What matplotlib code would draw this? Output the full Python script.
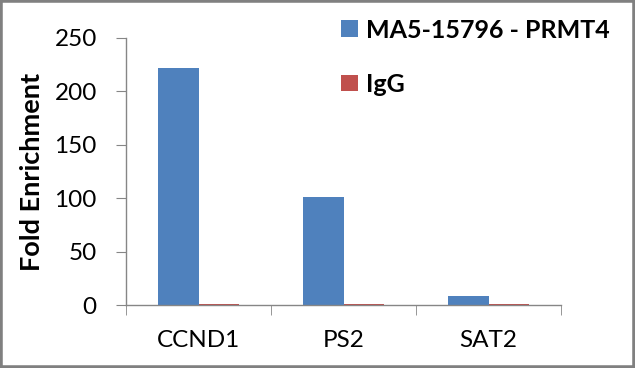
import matplotlib
matplotlib.use("Agg")
import matplotlib.pyplot as plt
import numpy as np
from matplotlib.patches import Rectangle

categories = ["CCND1", "PS2", "SAT2"]
prmt4 = [222, 101, 8]
igg = [1.2, 1.0, 1.0]
series_names = ["MA5-15796 - PRMT4", "IgG"]
yticks = [0, 50, 100, 150, 200, 250]

blue = "#4F81BD"
red = "#C0504D"
axis_col = "#868686"
font = "Lato"

fig = plt.figure(figsize=(6.35, 3.68), dpi=100)
ax = fig.add_axes([126/635, 63/368, 435/635, 267/368])

x = np.arange(len(categories))
w = 0.276
b1 = ax.bar(x - w/2, prmt4, width=w, color=blue, label=series_names[0])
b2 = ax.bar(x + w/2, igg, width=w, color=red, label=series_names[1])

ax.set_xlim(-0.5, len(categories) - 0.5)
ax.set_ylim(0, 250)
ax.set_yticks(yticks)
ax.set_yticklabels([str(v) for v in yticks], fontsize=17.5, family=font)
ax.set_xticks(x)
ax.set_xticklabels(categories, fontsize=17.5, family=font)
ax.set_xticks(np.arange(len(categories) + 1) - 0.5, minor=True)
ax.tick_params(axis="x", which="major", length=0, pad=18)
ax.tick_params(axis="x", which="minor", length=7, color=axis_col, direction="out")
ax.tick_params(axis="y", length=7, color=axis_col, direction="out", pad=14)
for s in ["top", "right"]:
    ax.spines[s].set_visible(False)
for s in ["left", "bottom"]:
    ax.spines[s].set_color(axis_col)
    ax.spines[s].set_linewidth(1.0)

ax.set_ylabel("Fold Enrichment", fontsize=19.5, fontweight="bold", family=font)
ax.yaxis.set_label_coords(-(126 - 44) / 435, 0.5)

leg = fig.legend(handles=[b1, b2], labels=series_names, loc="upper left",
                 bbox_to_anchor=(319/635, 1 + 4/368), frameon=False,
                 prop={"family": font, "weight": "bold", "size": 18},
                 handlelength=0.65, handleheight=0.65, handletextpad=0.35,
                 labelspacing=1.25)

fig.patches.append(Rectangle((0, 0), 1, 1, transform=fig.transFigure,
                             fill=False, edgecolor="#808080", linewidth=4))

fig.savefig("out.png", dpi=100)
